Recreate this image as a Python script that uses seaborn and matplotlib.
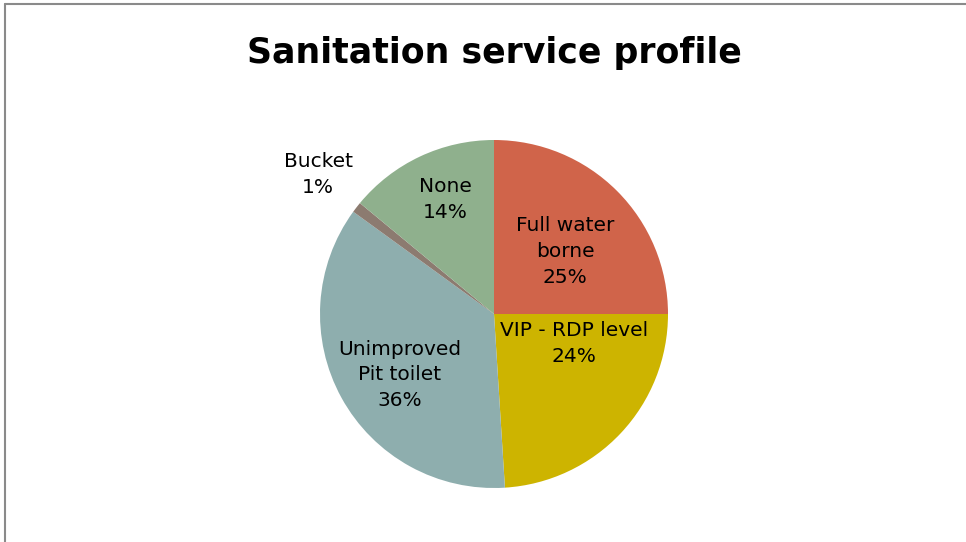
import matplotlib
matplotlib.use("Agg")
import matplotlib.pyplot as plt
from matplotlib.lines import Line2D
import seaborn as sns

# Data
categories = ["Full water\nborne", "VIP - RDP level", "Unimproved\nPit toilet", "Bucket", "None"]
values = [25, 24, 36, 1, 14]
colors = ["#D0644A", "#CDB400", "#8EAEAE", "#8C7B70", "#8FB08D"]

# label placement (in pie-radius units) - layout only
label_pos = [(0.41, 0.36), (0.46, -0.17), (-0.54, -0.35), (-1.01, 0.80), (-0.28, 0.66)]

sns.set_theme(style="white")
plt.rcParams['font.family'] = ['DejaVu Sans']

W, H = 966, 542
fig = plt.figure(figsize=(W / 100, H / 100), dpi=100)
fig.patch.set_facecolor("white")

# border (left and top lines visible)
fig.add_artist(Line2D([5 / W, 5 / W], [0, 1 - 4 / H], transform=fig.transFigure, color="#8a8a8a", lw=1.5))
fig.add_artist(Line2D([5 / W, 1], [1 - 4 / H, 1 - 4 / H], transform=fig.transFigure, color="#8a8a8a", lw=1.5))

cx, cy, r = 494, 314, 174
ax = fig.add_axes([(cx - r) / W, (H - cy - r) / H, 2 * r / W, 2 * r / H])
ax.pie(values, colors=colors, startangle=90, counterclock=False, radius=1,
       wedgeprops=dict(linewidth=0))
ax.set_xlim(-1, 1)
ax.set_ylim(-1, 1)
ax.set_aspect("equal")
ax.axis("off")

total = sum(values)
for cat, v, (x, y) in zip(categories, values, label_pos):
    ax.text(x, y, f"{cat}\n{round(v / total * 100)}%", ha="center", va="center",
            fontsize=14.5, color="black", linespacing=1.45)

fig.text(494 / W, 1 - 53 / H, "Sanitation service profile", ha="center", va="center",
         fontsize=25, fontweight="bold", color="black")

fig.savefig("out.png", dpi=100)
